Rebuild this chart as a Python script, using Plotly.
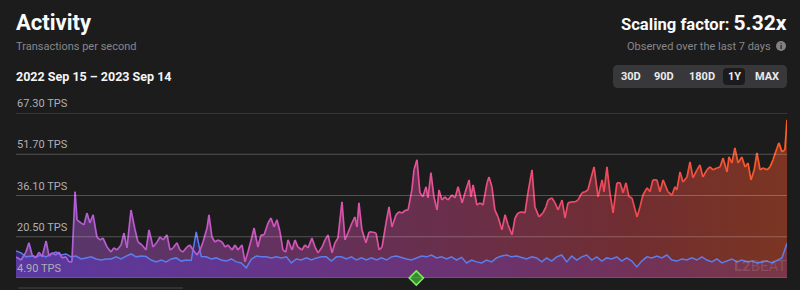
import plotly.graph_objects as go
import pandas as pd

# ---------------- data ----------------
START = pd.Timestamp("2022-09-15")
END = pd.Timestamp("2023-09-14")
date_range_label = "2022 Sep 15 – 2023 Sep 14"

# Main (all L2 projects) TPS: day offset from START, value
main_days = [0, 2.4, 4.7, 6.1, 7.6, 9.4, 10.9, 12.3, 14.2, 15.6, 17.0, 18.9, 20.3, 21.7, 23.6, 25.0, 26.4,
             27.9, 28.8, 30.7, 32.1, 33.5, 34.9, 36.4, 38.2, 39.7, 41.1, 43.0, 44.8, 46.3, 47.7, 49.6, 51.0,
             52.4, 54.3, 56.2, 57.6, 59.5, 61.4, 62.8, 64.7, 66.6, 68.0, 69.4, 71.3, 72.7, 74.2, 76.0, 77.4,
             78.8, 80.7, 82.1, 83.6, 85.5, 86.9, 88.3, 90.2, 91.1, 92.5, 93.9, 95.4, 97.3, 98.7, 100.1, 102.0,
             103.4, 104.8, 106.7, 108.1, 109.5, 111.4, 112.4, 114.2, 115.7, 117.1, 119.0, 120.4, 121.8, 123.2,
             124.6, 126.0, 127.4, 128.4, 130.3, 131.7, 133.1, 135.0, 136.4, 137.9, 139.7, 141.2, 142.6, 144.5,
             145.9, 147.3, 149.2, 150.6, 152.0, 153.9, 155.3, 156.7, 158.6, 160.0, 161.0, 161.9, 163.3, 165.2,
             166.7, 168.1, 170.0, 171.4, 172.8, 174.7, 176.1, 177.5, 179.4, 180.8, 182.2, 184.1, 185.1, 186.9,
             187.9, 189.3, 190.7, 192.1, 193.6, 194.5, 195.9, 197.3, 198.8, 199.7, 201.1, 202.5, 203.9, 205.8,
             207.3, 208.7, 210.6, 212.0, 213.9, 214.8, 215.8, 217.6, 219.1, 220.5, 222.4, 223.3, 224.7, 226.1,
             227.6, 229.4, 230.9, 232.3, 234.2, 235.6, 237.0, 238.9, 240.3, 241.7, 243.6, 245.0, 246.9, 248.8,
             250.2, 251.2, 253.0, 254.5, 255.9, 257.8, 259.2, 260.6, 262.5, 263.9, 265.3, 267.2, 268.6, 270.0,
             271.5, 272.9, 274.8, 276.7, 277.6, 279.0, 280.4, 281.9, 283.7, 285.2, 286.6, 288.0, 289.4, 290.8,
             293.2, 294.6, 296.0, 297.9, 299.3, 300.7, 302.6, 304.0, 305.5, 307.8, 309.7, 311.1, 312.0, 313.5,
             314.9, 316.8, 318.2, 319.6, 321.5, 322.9, 324.3, 326.2, 327.6, 329.1, 330.9, 332.4, 333.8, 335.7,
             336.6, 338.0, 339.4, 340.9, 342.7, 344.2, 345.6, 347.0, 348.5, 349.8, 351.3, 352.7, 354.6, 356.0,
             357.4, 359.3, 360.2, 361.6, 363.0, 364.0]
main_tps = [12.9, 11.7, 14.7, 18.2, 13.6, 12.5, 14.7, 12.9, 18.9, 13.2, 14.4, 13.6, 14.7, 12.5, 12.9, 11.0, 11.0,
            37.5, 26.9, 25.7, 25.0, 29.5, 25.7, 28.8, 20.4, 19.3, 20.0, 16.6, 14.7, 16.3, 15.5, 17.4, 21.9,
            16.3, 30.6, 23.1, 18.5, 17.4, 15.5, 23.1, 16.6, 18.5, 20.4, 19.3, 21.2, 15.5, 16.3, 18.2, 15.5,
            14.7, 16.6, 17.4, 15.5, 13.6, 15.5, 18.5, 23.8, 28.8, 20.4, 18.5, 19.3, 18.5, 16.6, 17.4, 15.5,
            17.4, 15.5, 17.4, 11.0, 14.7, 20.4, 23.8, 16.6, 21.2, 21.2, 25.7, 27.6, 24.2, 26.9,
            22.5, 15.5, 14.7, 19.3, 15.5, 19.3, 16.6, 15.5, 17.4, 16.3, 20.0, 16.6, 14.4, 16.6,
            19.3, 21.2, 14.4, 18.2, 20.0, 33.7, 19.3, 21.9, 25.7, 28.0, 24.2, 33.3, 23.1, 18.2,
            22.3, 22.3, 21.9, 15.5, 16.6, 25.7, 31.8, 24.2, 28.8, 29.9, 29.5, 30.6, 30.6, 38.2,
            45.8, 49.6, 37.1, 35.6, 39.4, 35.2, 44.7, 35.6, 30.6, 38.2, 34.4, 35.6, 34.4, 36.3,
            35.2, 39.4, 33.3, 37.1, 42.0, 35.6, 40.1, 32.5, 33.3, 32.5, 40.9, 43.1, 39.4, 30.6,
            28.0, 23.1, 28.8, 25.0, 21.2, 27.6, 29.5, 29.9, 29.5, 37.1, 45.8, 31.8, 28.0, 29.5,
            31.8, 34.4, 35.2, 33.3, 30.6, 34.4, 27.6, 33.3, 33.7, 33.7, 34.4, 37.1, 37.5, 38.2,
            42.8, 46.9, 35.6, 42.0, 37.5, 46.9, 37.1, 29.5, 40.9, 40.9, 37.1, 40.9, 35.6, 35.2,
            28.0, 31.8, 36.3, 39.0, 37.5, 42.0, 42.0, 37.5, 42.0, 37.5, 36.3, 39.4, 38.2, 45.0,
            41.2, 43.1, 48.8, 42.8, 45.8, 47.7, 43.1, 45.8, 46.9, 45.8, 46.5, 46.9, 50.3, 45.0,
            50.7, 48.4, 54.1, 48.4, 50.7, 46.9, 48.4, 42.0, 45.8, 52.2, 45.8, 46.5, 45.8, 46.9,
            49.6, 54.1, 56.0, 52.6, 53.4, 64.7]

# Ethereum TPS, evenly spaced readings over the same year
eth_tps = [15.1, 14.4, 12.9, 13.2, 12.9, 13.6, 12.9, 14.0, 14.7, 13.6, 14.0, 12.9, 13.2, 12.1, 12.5, 12.9,
           12.1, 11.7, 12.1, 12.1, 12.9, 12.1, 13.2, 14.0, 12.9, 13.2, 13.0, 11.7, 11.0, 11.7, 11.0, 12.1,
           12.5, 11.3, 11.7, 11.5, 22.3, 13.0, 12.9, 12.1, 12.5, 11.7, 11.3, 12.1, 11.0, 10.6, 8.7, 12.0,
           13.2, 12.9, 12.9, 12.5, 12.9, 12.5, 12.9, 10.6, 12.1, 11.7, 12.5, 11.7, 12.5, 12.9, 12.9, 11.3,
           12.9, 12.9, 12.1, 12.9, 11.7, 12.5, 11.7, 12.5, 11.7, 12.5, 11.7, 12.9, 13.2, 12.5, 12.1, 11.7,
           12.5, 13.2, 12.9, 13.6, 12.5, 12.9, 12.1, 12.9, 11.7, 12.7, 10.6, 11.7, 11.0, 10.6, 11.7, 11.0,
           12.5, 13.2, 13.6, 12.9, 13.2, 12.5, 12.1, 12.9, 12.5, 11.0, 12.5, 11.3, 12.9, 13.6, 11.0, 13.2,
           11.7, 12.9, 13.6, 11.7, 12.9, 11.3, 12.5, 12.1, 12.9, 11.3, 12.5, 11.3, 9.1, 11.3, 12.9, 12.5,
           13.2, 12.5, 13.6, 11.7, 11.3, 12.1, 11.7, 12.5, 11.7, 12.9, 11.7, 11.0, 12.1, 10.6, 11.3, 12.1,
           11.0, 11.7, 11.0, 11.3, 10.6, 11.0, 11.3, 10.6, 11.7, 12.5, 18.0]

tick_values = [4.90, 20.50, 36.10, 51.70, 67.30]
tick_labels = [f"{v:.2f} TPS" for v in tick_values]
range_buttons = ["30D", "90D", "180D", "1Y", "MAX"]
selected_button = "1Y"
event_dates = ["2023-03-23"]
scaling_factor = "5.32x"

# ---------------- styling ----------------
BG = "rgb(28,28,29)"
FONT = "Roboto"
PL, PR, PT, PB = 16, 787, 113, 278  # plot area in px
W, H = 800, 290

def px(x):
    return (x - PL) / (PR - PL)

def py(y):
    return (PB - y) / (PB - PT)

line_stops = [(0.0, (168, 98, 222)), (0.3, (202, 86, 192)), (0.55, (228, 82, 148)),
              (0.8, (238, 74, 82)), (1.0, (250, 94, 36))]

def interp_color(t):
    for (t0, c0), (t1, c1) in zip(line_stops[:-1], line_stops[1:]):
        if t <= t1:
            f = (t - t0) / (t1 - t0) if t1 > t0 else 0
            return tuple(int(round(a + (b - a) * f)) for a, b in zip(c0, c1))
    return line_stops[-1][1]

main_dates = [START + pd.Timedelta(days=d) for d in main_days]
eth_dates = list(pd.date_range(START, END, periods=len(eth_tps)))
span = main_days[-1]

fig = go.Figure()

# main area fill
fig.add_trace(go.Scatter(
    x=main_dates, y=main_tps, mode="lines", line=dict(width=0),
    fill="tozeroy",
    fillgradient=dict(type="horizontal", colorscale=[
        [0.0, "rgba(160,90,215,0.44)"], [0.3, "rgba(195,80,190,0.42)"],
        [0.55, "rgba(220,75,145,0.40)"], [0.8, "rgba(230,70,75,0.42)"],
        [1.0, "rgba(245,85,40,0.44)"]]),
    hoverinfo="skip", showlegend=False))

# ethereum area + line
fig.add_trace(go.Scatter(
    x=eth_dates, y=eth_tps, mode="lines",
    line=dict(width=1.5, color="rgb(92,125,235)"),
    fill="tozeroy",
    fillgradient=dict(type="horizontal", colorscale=[
        [0.0, "rgba(95,60,235,0.40)"], [0.5, "rgba(110,60,210,0.32)"],
        [1.0, "rgba(120,60,180,0.25)"]]),
    hoverinfo="skip", showlegend=False))

# main line with horizontal colour gradient (per segment)
for i in range(len(main_days) - 1):
    t = ((main_days[i] + main_days[i + 1]) / 2) / span
    c = interp_color(t)
    fig.add_trace(go.Scatter(
        x=main_dates[i:i + 2], y=main_tps[i:i + 2], mode="lines",
        line=dict(width=1.7, color=f"rgb{c}"),
        hoverinfo="skip", showlegend=False))

# event marker
fig.add_trace(go.Scatter(
    x=pd.to_datetime(event_dates), y=[tick_values[0]] * len(event_dates), mode="markers",
    marker=dict(symbol="diamond", size=11, color="rgb(55,140,45)",
                line=dict(color="rgb(130,235,100)", width=1.5)),
    cliponaxis=False, hoverinfo="skip", showlegend=False))

shapes = []
# gridlines
for v in tick_values:
    shapes.append(dict(type="line", xref="paper", yref="y", x0=0, x1=1, y0=v, y1=v,
                       line=dict(color="rgba(255,255,255,0.24)", width=1), layer="above"))

# rounded rect helper in paper coords
def rrect(x0, y0, x1, y1, r, fill):
    X = lambda v: px(v)
    Y = lambda v: py(v)
    path = (f"M {X(x0+r)},{Y(y0)} L {X(x1-r)},{Y(y0)} Q {X(x1)},{Y(y0)} {X(x1)},{Y(y0+r)} "
            f"L {X(x1)},{Y(y1-r)} Q {X(x1)},{Y(y1)} {X(x1-r)},{Y(y1)} "
            f"L {X(x0+r)},{Y(y1)} Q {X(x0)},{Y(y1)} {X(x0)},{Y(y1-r)} "
            f"L {X(x0)},{Y(y0+r)} Q {X(x0)},{Y(y0)} {X(x0+r)},{Y(y0)} Z")
    return dict(type="path", xref="paper", yref="paper", path=path,
                fillcolor=fill, line=dict(width=0), layer="above")

shapes.append(rrect(613, 65, 787, 88, 5, "rgb(56,56,59)"))
btn_centers = [631, 664, 702, 734, 767]
btn_widths = [26, 26, 32, 22, 30]
for name, cx, w in zip(range_buttons, btn_centers, btn_widths):
    if name == selected_button:
        shapes.append(rrect(cx - w / 2, 68, cx + w / 2, 85, 4, "rgb(27,27,29)"))

# info icon
shapes.append(dict(type="circle", xref="paper", yref="paper",
                   x0=px(776), x1=px(786), y0=py(51), y1=py(41),
                   fillcolor="rgb(130,130,133)", line=dict(width=0), layer="above"))
# bottom panel edge
shapes.append(dict(type="line", xref="paper", yref="paper",
                   x0=px(18), x1=px(183), y0=py(288), y1=py(288),
                   line=dict(color="rgb(70,70,72)", width=1), layer="above"))

annotations = []

def ann(text, x, y, size, color, xanchor="left", yanchor="middle", bold=False):
    annotations.append(dict(
        text=f"<b>{text}</b>" if bold else text, xref="paper", yref="paper",
        x=px(x), y=py(y), xanchor=xanchor, yanchor=yanchor, showarrow=False,
        font=dict(family=FONT, size=size, color=color), borderpad=0))

ann("Activity", 15, 22, 22, "rgb(250,250,250)", bold=True)
ann("Transactions per second", 15, 46, 11, "rgb(135,135,138)")
ann(date_range_label, 15, 77, 12.5, "rgb(245,245,245)", bold=True)
annotations.append(dict(
    text=f"<b>Scaling factor: </b><b><span style='font-size:21px'>{scaling_factor}</span></b>",
    xref="paper", yref="paper", x=px(788), y=py(23), xanchor="right", yanchor="middle",
    showarrow=False, font=dict(family=FONT, size=16.6, color="rgb(250,250,250)"), borderpad=0))
ann("Observed over the last 7 days", 772, 46, 11, "rgb(135,135,138)", xanchor="right")
ann("i", 781, 46, 8, "rgb(28,28,29)", xanchor="center", bold=True)
for name, cx in zip(range_buttons, btn_centers):
    ann(name, cx, 77, 11, "rgb(235,235,235)", xanchor="center", bold=True)

# y labels above gridlines
for v, lab in zip(tick_values, tick_labels):
    annotations.append(dict(
        text=lab, xref="paper", yref="y", x=0, y=v, xanchor="left", yanchor="bottom",
        yshift=2, showarrow=False, borderpad=0,
        font=dict(family=FONT, size=11, color="rgb(175,175,178)")))

# watermark
ann("<b>L2</b>BEAT", 760, 266, 15, "rgba(255,255,255,0.13)", xanchor="center")

fig.update_layout(
    width=W, height=H,
    margin=dict(l=PL, r=W - PR, t=PT, b=H - PB),
    paper_bgcolor=BG, plot_bgcolor=BG,
    xaxis=dict(range=[START, END], showgrid=False, zeroline=False, showticklabels=False,
               showline=False, ticks="", fixedrange=True),
    yaxis=dict(range=[tick_values[0], tick_values[-1]], showgrid=False, zeroline=False,
               showticklabels=False, showline=False, ticks="", fixedrange=True),
    shapes=shapes, annotations=annotations, showlegend=False,
    hovermode=False,
)

fig.write_html("out.html")
